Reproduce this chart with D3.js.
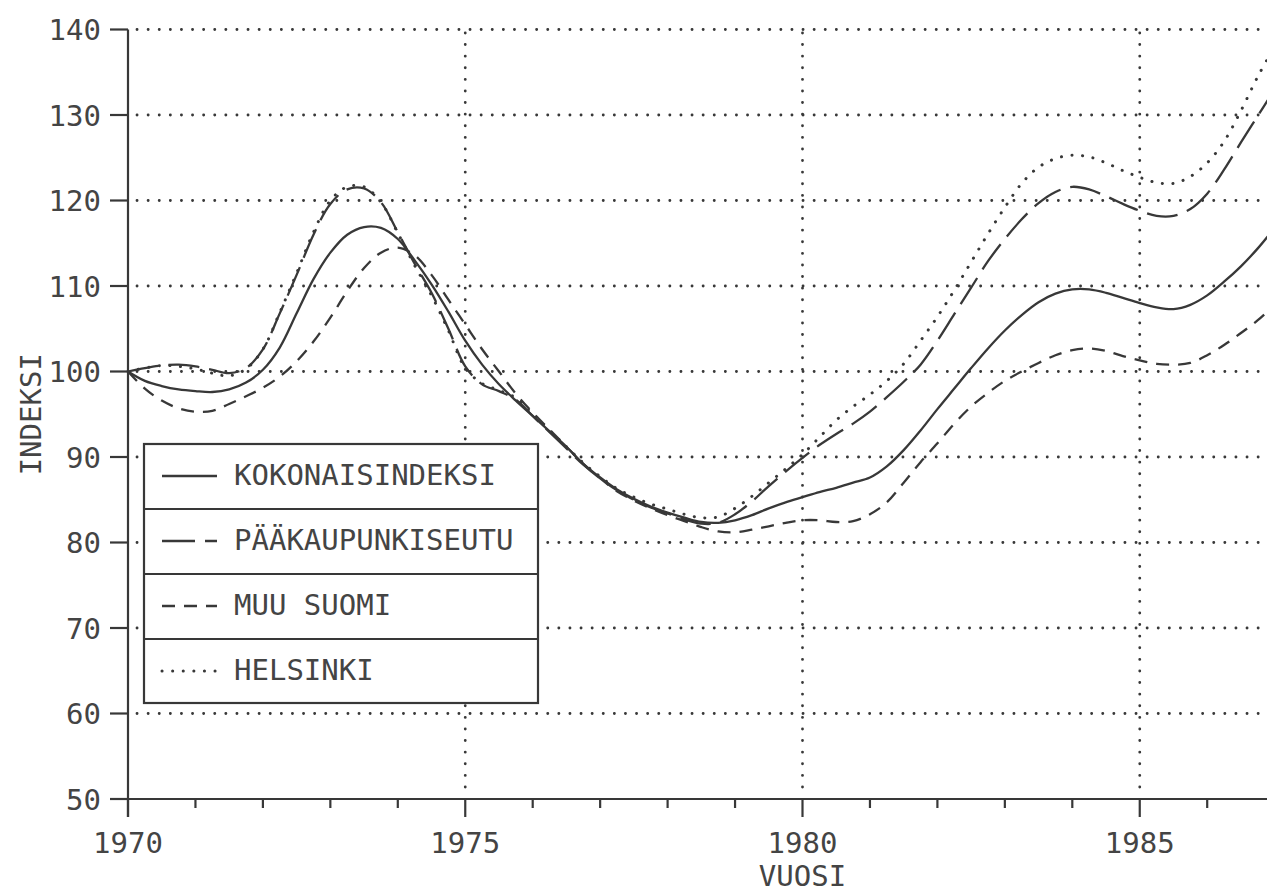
<!DOCTYPE html>
<html>
<head>
<meta charset="utf-8">
<script src="https://cdn.jsdelivr.net/npm/d3@7/dist/d3.min.js"></script>
<style>
  html, body { margin: 0; padding: 0; background: #fff; }
  svg { display: block; }
  text { font-family: "DejaVu Sans Mono", "Liberation Mono", monospace; fill: #444; }
</style>
</head>
<body>
<svg id="chart" width="1267" height="894"></svg>
<script>
// ---- data ----
const quarters = [
  1970.00,1970.25,1970.50,1970.75,1971.00,1971.25,1971.50,1971.75,
  1972.00,1972.25,1972.50,1972.75,1973.00,1973.25,1973.50,1973.75,
  1974.00,1974.25,1974.50,1974.75,1975.00,1975.25,1975.50,1975.75,
  1976.00,1976.25,1976.50,1976.75,1977.00,1977.25,1977.50,1977.75,
  1978.00,1978.25,1978.50,1978.75,1979.00,1979.25,1979.50,1979.75,
  1980.00,1980.25,1980.50,1980.75,1981.00,1981.25,1981.50,1981.75,
  1982.00,1982.25,1982.50,1982.75,1983.00,1983.25,1983.50,1983.75,
  1984.00,1984.25,1984.50,1984.75,1985.00,1985.25,1985.50,1985.75,
  1986.00,1986.25,1986.50,1986.75,1987.00
];

const kokonaisindeksi = [
  100.0, 98.9, 98.3, 97.9, 97.7, 97.6, 97.9, 98.7,
  100.2,102.8,106.8,110.8,113.9,116.0,116.9,116.8,
  115.5,113.0,110.2,107.0,103.6,100.8, 98.5, 96.6,
   94.8, 93.0, 91.2, 89.2, 87.6, 86.2, 85.1, 84.2,
   83.5, 82.9, 82.4, 82.3, 82.6, 83.2, 84.0, 84.7,
   85.3, 85.9, 86.4, 87.0, 87.6, 88.9, 90.8, 93.1,
   95.6, 98.0,100.4,102.7,104.8,106.6,108.1,109.1,
  109.6,109.6,109.2,108.6,108.0,107.5,107.3,107.8,
  108.9,110.5,112.3,114.4,116.8
];

const paakaupunkiseutu = [
  100.0,100.4,100.7,100.8,100.6,100.2, 99.8,100.4,
  102.6,106.8,111.3,116.0,119.6,121.3,121.4,119.8,
  116.3,112.6,109.2,105.0,100.6, 98.5, 97.7, 96.7,
   94.8, 92.9, 91.0, 89.1, 87.5, 86.1, 85.0, 84.1,
   83.4, 82.7, 82.2, 82.3, 83.3, 84.8, 86.6, 88.3,
   89.9, 91.4, 92.7, 93.9, 95.3, 97.0, 98.8,100.8,
  103.6,106.7,109.8,112.9,115.5,117.8,119.7,121.0,
  121.6,121.3,120.5,119.6,118.8,118.2,118.2,119.0,
  120.8,123.6,126.8,129.9,133.0
];

const muuSuomi = [
  100.0, 98.0, 96.6, 95.7, 95.3, 95.4, 96.2, 97.1,
   98.1, 99.4,101.2,103.5,106.3,109.4,112.1,113.9,
  114.5,113.6,111.3,108.4,105.5,102.6,100.0, 97.4,
   95.2, 93.2, 91.2, 89.2, 87.5, 86.0, 84.9, 84.0,
   83.2, 82.5, 81.8, 81.3, 81.2, 81.5, 81.9, 82.3,
   82.6, 82.6, 82.4, 82.5, 83.3, 84.7, 87.0, 89.4,
   91.6, 93.9, 95.9, 97.5, 98.9,100.0,101.0,101.9,
  102.5,102.7,102.4,101.8,101.3,100.9,100.8,101.0,
  101.9,103.1,104.5,106.0,107.8
];

const helsinki = [
  100.0,100.4,100.7,100.6,100.3, 99.8, 99.5,100.3,
  102.6,106.9,111.5,116.3,120.0,121.6,121.6,119.8,
  116.2,112.4,108.9,104.8,100.4, 98.6, 97.8, 96.9,
   95.0, 93.1, 91.2, 89.3, 87.7, 86.3, 85.3, 84.5,
   83.9, 83.3, 82.9, 83.0, 84.0, 85.4, 87.0, 88.6,
   90.3, 92.3, 94.3, 95.9, 97.3, 98.9,100.9,103.6,
  106.4,109.5,112.8,116.1,119.2,122.0,123.9,124.9,
  125.3,125.1,124.4,123.5,122.7,122.1,122.0,122.8,
  124.4,126.9,130.5,134.5,138.0
];

const seriesNames = ["KOKONAISINDEKSI", "PÄÄKAUPUNKISEUTU", "MUU SUOMI", "HELSINKI"];
const yTickValues = [50, 60, 70, 80, 90, 100, 110, 120, 130, 140];
const yGridValues = [60, 70, 80, 90, 100, 110, 120, 130, 140];
const xMajorTicks = [1970, 1975, 1980, 1985];
const xMinorTicks = [1971, 1972, 1973, 1974, 1976, 1977, 1978, 1979, 1981, 1982, 1983, 1984, 1986, 1987, 1988, 1989];
const xGridValues = [1975, 1980, 1985];
const xTitle = "VUOSI";
const yTitle = "INDEKSI";

// ---- layout ----
const svg = d3.select("#chart");
const ink = "#383838";
const x = d3.scaleLinear().domain([1970, 1990]).range([128, 1477]);
const y = d3.scaleLinear().domain([50, 140]).range([799, 29.5]);

const fontSize = 29;

// grid (dotted)
const grid = svg.append("g");
grid.selectAll("line.hg").data(yGridValues).enter().append("line")
  .attr("x1", x(1970) + 9).attr("x2", 1300)
  .attr("y1", d => y(d)).attr("y2", d => y(d))
  .attr("stroke", ink).attr("stroke-width", 2.8)
  .attr("stroke-linecap", "round").attr("stroke-dasharray", "0.1 11");
grid.selectAll("line.vg").data(xGridValues).enter().append("line")
  .attr("x1", d => x(d)).attr("x2", d => x(d))
  .attr("y1", y(50) - 12).attr("y2", y(140))
  .attr("stroke", ink).attr("stroke-width", 2.8)
  .attr("stroke-linecap", "round").attr("stroke-dasharray", "0.1 11.5");

// series lines
const line = d3.line()
  .x((d, i) => x(quarters[i]))
  .y(d => y(d))
  .curve(d3.curveCatmullRom.alpha(0.5));

const styles = [
  { data: kokonaisindeksi, dash: null, cap: "butt", w: 2.3 },
  { data: paakaupunkiseutu, dash: "31 10", cap: "butt", w: 2.3 },
  { data: muuSuomi, dash: "13 9", cap: "butt", w: 2.3 },
  { data: helsinki, dash: "0.1 10.5", cap: "round", w: 3 }
];

const lines = svg.append("g");
styles.forEach(s => {
  lines.append("path")
    .attr("d", line(s.data))
    .attr("fill", "none")
    .attr("stroke", ink)
    .attr("stroke-width", s.w)
    .attr("stroke-linecap", s.cap)
    .attr("stroke-dasharray", s.dash);
});

// axes
const axes = svg.append("g").attr("stroke", ink).attr("stroke-width", 2.2);
axes.append("line").attr("x1", x(1970)).attr("x2", x(1970))
  .attr("y1", y(140)).attr("y2", y(50) + 18);
axes.append("line").attr("x1", x(1970) - 18).attr("x2", 1300)
  .attr("y1", y(50)).attr("y2", y(50));
axes.selectAll("line.yt").data(yTickValues).enter().append("line")
  .attr("x1", x(1970) - 18).attr("x2", x(1970))
  .attr("y1", d => y(d)).attr("y2", d => y(d));
axes.selectAll("line.xM").data(xMajorTicks).enter().append("line")
  .attr("x1", d => x(d)).attr("x2", d => x(d))
  .attr("y1", y(50)).attr("y2", y(50) + 18);
axes.selectAll("line.xm").data(xMinorTicks).enter().append("line")
  .attr("x1", d => x(d)).attr("x2", d => x(d))
  .attr("y1", y(50)).attr("y2", y(50) + 9);

// tick labels
svg.append("g").selectAll("text").data(yTickValues).enter().append("text")
  .attr("x", x(1970) - 27).attr("y", d => y(d) + 10.5)
  .attr("text-anchor", "end").attr("font-size", fontSize)
  .text(d => d);
svg.append("g").selectAll("text").data(xMajorTicks).enter().append("text")
  .attr("x", d => x(d)).attr("y", 853)
  .attr("text-anchor", "middle").attr("font-size", fontSize)
  .text(d => d);

// axis titles
svg.append("text").attr("x", x(1980)).attr("y", 886)
  .attr("text-anchor", "middle").attr("font-size", fontSize).text(xTitle);
svg.append("text")
  .attr("transform", `translate(41, ${y(95)}) rotate(-90)`)
  .attr("text-anchor", "middle").attr("font-size", fontSize).text(yTitle);

// legend
const lg = svg.append("g");
const lgX = 144, lgY = 444, lgW = 394, rowH = 65;
lg.append("rect").attr("x", lgX).attr("y", lgY).attr("width", lgW).attr("height", rowH * 4 - 1)
  .attr("fill", "#fff").attr("stroke", ink).attr("stroke-width", 2.2);
seriesNames.forEach((name, i) => {
  const top = lgY + i * rowH;
  if (i > 0) {
    lg.append("line").attr("x1", lgX).attr("x2", lgX + lgW)
      .attr("y1", top).attr("y2", top)
      .attr("stroke", ink).attr("stroke-width", 2.2);
  }
  const s = styles[i];
  lg.append("line").attr("x1", 162).attr("x2", 217)
    .attr("y1", top + 32).attr("y2", top + 32)
    .attr("stroke", ink).attr("stroke-width", s.w)
    .attr("stroke-linecap", s.cap).attr("stroke-dasharray", s.dash === "31 10" ? "33 10" : s.dash);
  lg.append("text").attr("x", 234).attr("y", top + 41)
    .attr("font-size", fontSize).text(name);
});
</script>
</body>
</html>
